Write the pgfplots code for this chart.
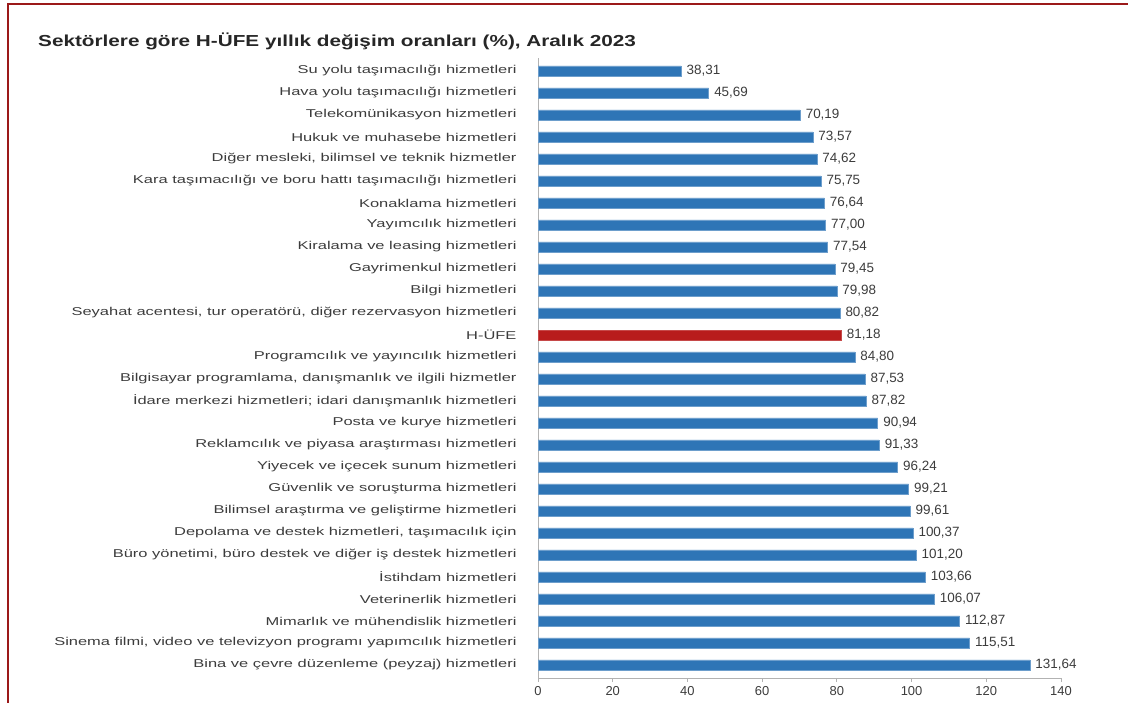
\documentclass[border=0pt]{standalone}
\usepackage{pgfplots}
\pgfplotsset{compat=1.18}
\usepackage{pgfplotstable}
\usepackage{fontspec}
\setmainfont{Liberation Sans}
\newfontfamily\catfont[FakeStretch=1.45]{Liberation Sans}
\newfontfamily\titlefont[FakeStretch=1.3]{Liberation Sans}
\definecolor{barblue}{RGB}{46,117,182}
\definecolor{barred}{RGB}{184,28,28}
\definecolor{framered}{RGB}{155,25,25}
\definecolor{txt}{RGB}{60,60,60}
\pgfplotstableread{
y x
27 38.31
26 45.69
25 70.19
24 73.57
23 74.62
22 75.75
21 76.64
20 77.00
19 77.54
18 79.45
17 79.98
16 80.82
14 84.80
13 87.53
12 87.82
11 90.94
10 91.33
9 96.24
8 99.21
7 99.61
6 100.37
5 101.20
4 103.66
3 106.07
2 112.87
1 115.51
0 131.64
}\blue
\pgfplotstableread{
y x
15 81.18
}\red
\begin{document}
\begin{tikzpicture}[x=1bp,y=1bp]
\path[use as bounding box] (0,0) rectangle (1128,703);
\draw[framered, line width=2bp] (8,-5) -- (8,699) -- (1135,699);
\node[anchor=west, inner sep=0pt, text=black!85] at (38,662) {\titlefont\fontsize{16}{19}\selectfont\bfseries Sektörlere göre H-ÜFE yıllık değişim oranları (\%), Aralık 2023};
\begin{axis}[
  at={(538bp,24.8bp)}, anchor=south west,
  width=523bp, height=620.4bp, scale only axis,
  xmin=0, xmax=140, ymin=-0.6, ymax=27.6,
  xbar, bar width=10bp,
  /pgf/number format/assume math mode=true,
  axis x line*=bottom, axis y line*=left,
  axis line style={draw=gray!60, line width=0.8bp},
  xtick={0,20,...,140},
  xtick align=outside, major tick length=4bp,
  x tick style={draw=gray!60, line width=0.8bp},
  x tick label style={font=\fontsize{13}{15}\selectfont, text=txt, yshift=-1bp},
  ytick={0,...,27},
  y tick style={draw=none},
  y tick label style={font=\catfont\fontsize{11.4}{13}\selectfont, text=txt, xshift=-14bp},
  yticklabels={
    Bina ve çevre düzenleme (peyzaj) hizmetleri,
    {Sinema filmi, video ve televizyon programı yapımcılık hizmetleri},
    Mimarlık ve mühendislik hizmetleri,
    Veterinerlik hizmetleri,
    İstihdam hizmetleri,
    {Büro yönetimi, büro destek ve diğer iş destek hizmetleri},
    {Depolama ve destek hizmetleri, taşımacılık için},
    Bilimsel araştırma ve geliştirme hizmetleri,
    Güvenlik ve soruşturma hizmetleri,
    Yiyecek ve içecek sunum hizmetleri,
    Reklamcılık ve piyasa araştırması hizmetleri,
    Posta ve kurye hizmetleri,
    {İdare merkezi hizmetleri; idari danışmanlık hizmetleri},
    {Bilgisayar programlama, danışmanlık ve ilgili hizmetler},
    Programcılık ve yayıncılık hizmetleri,
    H-ÜFE,
    {Seyahat acentesi, tur operatörü, diğer rezervasyon hizmetleri},
    Bilgi hizmetleri,
    Gayrimenkul hizmetleri,
    Kiralama ve leasing hizmetleri,
    Yayımcılık hizmetleri,
    Konaklama hizmetleri,
    Kara taşımacılığı ve boru hattı taşımacılığı hizmetleri,
    {Diğer mesleki, bilimsel ve teknik hizmetler},
    Hukuk ve muhasebe hizmetleri,
    Telekomünikasyon hizmetleri,
    Hava yolu taşımacılığı hizmetleri,
    Su yolu taşımacılığı hizmetleri},
  point meta=x,
  nodes near coords={\pgfmathprintnumber[fixed,fixed zerofill,precision=2,use comma,assume math mode=true]{\pgfplotspointmeta}},
  nodes near coords style={font=\fontsize{13.5}{15}\selectfont, text=txt, anchor=west, xshift=2bp},
  clip=false,
]
\addplot[bar shift=0pt, fill=barblue, draw=barblue!70!white, line width=0.5bp] table[x=x,y=y] {\blue};
\addplot[bar shift=0pt, fill=barred, draw=barred!80!white, line width=0.5bp] table[x=x,y=y] {\red};
\end{axis}
\end{tikzpicture}
\end{document}
